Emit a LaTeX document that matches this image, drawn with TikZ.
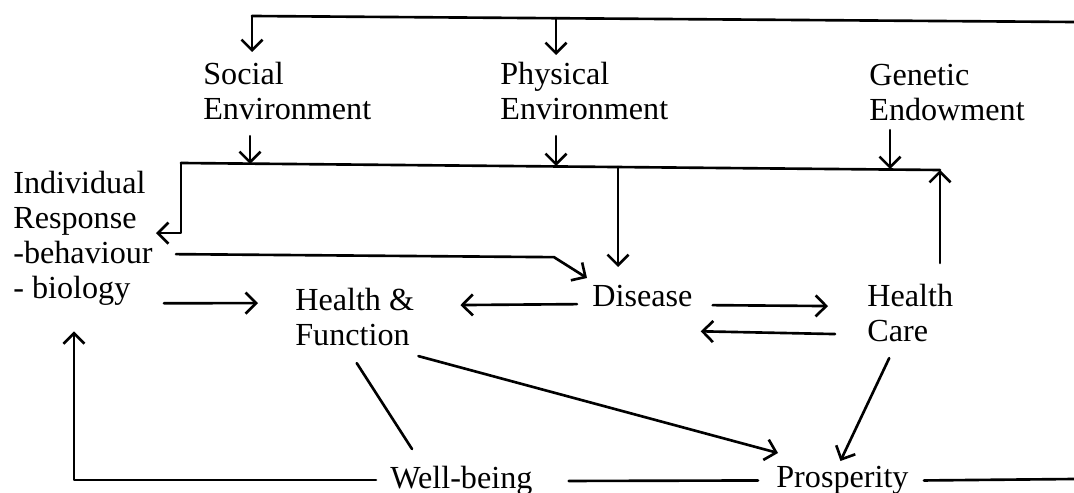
\documentclass[tikz,border=0pt]{standalone}
\usepackage{fontspec}
\setmainfont{Liberation Serif}
\usepackage{tikz}
\usetikzlibrary{arrows.meta, calc}
\tikzset{
  lbl/.style={inner sep=0pt, anchor=north west, align=left,
    font=\fontsize{18.3pt}{19.8pt}\selectfont},
  wire/.style={line width=1.5pt, line cap=round, line join=round},
  arr/.style={wire, -{Straight Barb[length=6pt, width=12pt]}},
}

\begin{document}
\begin{tikzpicture}[x=0.02cm, y=0.02cm]
  \useasboundingbox (0,0) rectangle (1074,-493);

  % ── Factors ──
  \node[lbl] (social)   at (203,-62)  {Social\\Environment};
  \node[lbl] (physical) at (500,-62)  {Physical\\Environment};
  \node[lbl] (genetic)  at (869,-64)  {Genetic\\Endowment};
  \node[lbl] (indiv)    at (13,-171)  {Individual\\Response\\-behaviour\\- biology};
  \node[lbl] (hf)       at (295,-288) {Health \&\\Function};
  \node[lbl] (disease)  at (592,-285) {Disease};
  \node[lbl] (hc)       at (867,-284) {Health\\Care};
  \node[lbl] (well)     at (390,-466) {Well-being};
  \node[lbl] (prosp)    at (776,-466) {Prosperity};

  % ── Bus lines ──
  \coordinate (t1) at (252,-16);
  \coordinate (t2) at (556,-18);
  \coordinate (t3) at (1074,-22);
  \coordinate (m0) at (181,-163);
  \coordinate (m1) at (250,-164);
  \coordinate (m2) at (556,-166);
  \coordinate (m3) at (618,-167);
  \coordinate (m4) at (890,-169);
  \coordinate (m5) at (940,-170);
  \coordinate (edge) at (1074,-479);

  \draw[wire] (t1) -- (t3);
  \draw[wire] (m0) -- (m5);

  % ── Arrows from the top ──
  \draw[arr] (t1) -- ($(t1 |- social.north)+(0,10)$);
  \draw[arr] (t2) -- ($(t2 |- physical.north)+(0,7)$);
  \draw[arr] ($(m1 |- social.south)+(0,-16)$) -- (m1);
  \draw[arr] ($(m2 |- physical.south)+(0,-16)$) -- (m2);
  \draw[arr] ($(m4 |- genetic.south)+(0,-9)$) -- (m4);
  \draw[arr] (m0) |- ($(indiv.east)+(3,5)$);
  \draw[arr] (m3) -- ($(m3 |- disease.north)+(0,18)$);
  \draw[arr] ($(m5 |- hc.north)+(0,21)$) -- (m5);

  % ── Middle row ──
  \draw[arr] ($(indiv.east)+(23,-16)$) -- ++(378,-3) -- ($(disease.north west)+(-5,7)$);
  \draw[arr] ($(indiv.south east)+(11,2)$) -- ($(hf.west)+(-37,14)$);
  \draw[arr] ($(disease.west)+(-15,-8)$) -- ($(hf.east)+(46,12)$);
  \draw[arr] ($(disease.east)+(20,-9)$) -- ($(hc.west)+(-39,7)$);
  \draw[arr] ($(hc.west)+(-32,-21)$) -- ($(disease.south east)+(8,-24)$);

  % ── Bottom row ──
  \draw[wire] ($(hf.south)+(2,-17)$) -- ($(well.north west)+(22,17)$);
  \draw[arr] ($(hf.south east)+(4,-10)$) -- ($(prosp.north west)+(2,13)$);
  \draw[arr] ($(hc.south)+(-21,-16)$) -- ($(prosp.north)+(-2,5)$);
  \draw[arr] ($(well.west)+(-14,1)$) -| ($(indiv.south)+(-9,-26)$);
  \draw[wire] ($(well.east)+(36,0)$) -- ($(prosp.west)+(-18,0)$);
  \draw[wire] ($(prosp.east)+(15,0)$) -- (edge);

\end{tikzpicture}
\end{document}
